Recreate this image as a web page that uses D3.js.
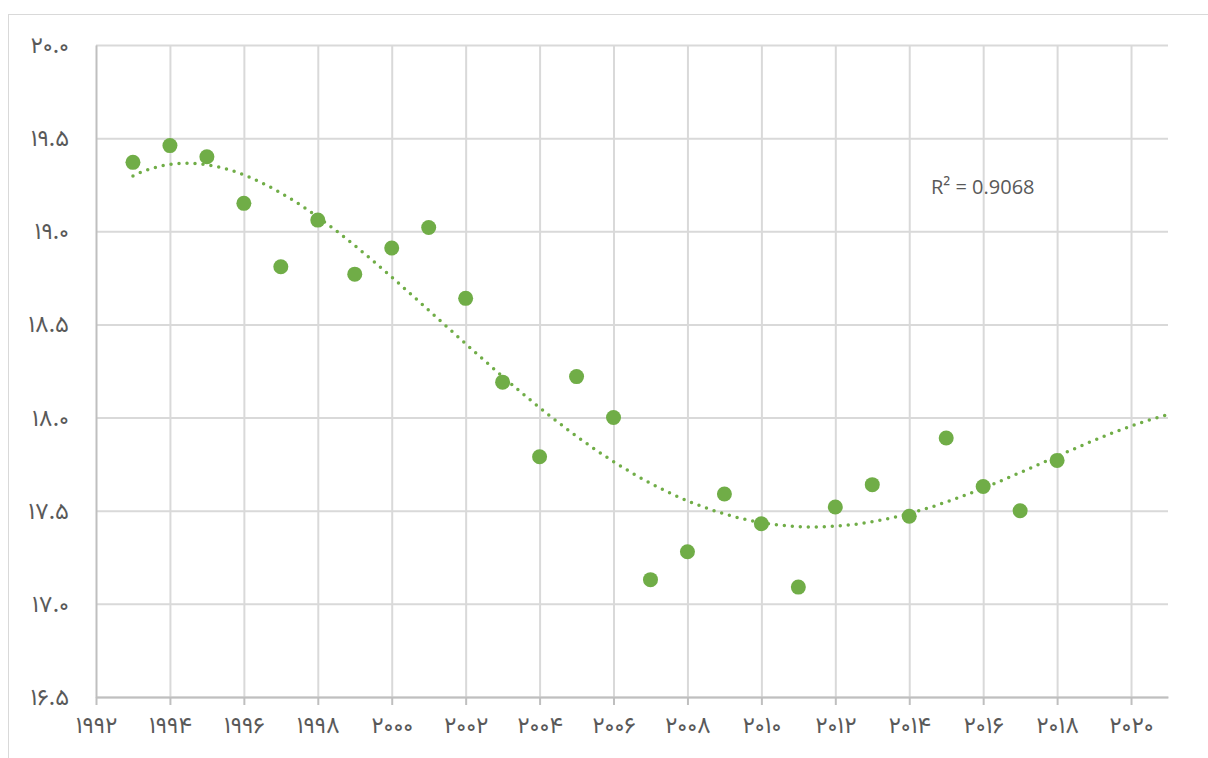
<!DOCTYPE html>
<html>
<head>
<meta charset="utf-8">
<script src="https://cdn.jsdelivr.net/npm/d3@7"></script>
<style>
  html, body { margin: 0; padding: 0; background: #ffffff; }
  svg { display: block; }
</style>
</head>
<body>
<svg id="chart" width="1208" height="758"></svg>
<script>
// ---- data ----
const years = [1993, 1994, 1995, 1996, 1997, 1998, 1999, 2000, 2001, 2002, 2003, 2004, 2005,
               2006, 2007, 2008, 2009, 2010, 2011, 2012, 2013, 2014, 2015, 2016, 2017, 2018];
const values = [19.37, 19.46, 19.40, 19.15, 18.81, 19.06, 18.77, 18.91, 19.02, 18.64, 18.19, 17.79, 18.22,
                18.00, 17.13, 17.28, 17.59, 17.43, 17.09, 17.52, 17.64, 17.47, 17.89, 17.63, 17.50, 17.77];
const xTicks = [1992, 1994, 1996, 1998, 2000, 2002, 2004, 2006, 2008, 2010, 2012, 2014, 2016, 2018, 2020];
const yTicks = [16.5, 17.0, 17.5, 18.0, 18.5, 19.0, 19.5, 20.0];
const trendDegree = 4;
const trendEnd = 2021;
const r2Label = "R² = 0.9068";

// ---- helpers ----
const toFa = s => String(s).replace(/[0-9]/g, d => String.fromCharCode(0x06F0 + (+d)));

function polyfit(xs, ys, deg) {
  const mx = d3.mean(xs), sx = (d3.max(xs) - d3.min(xs)) / 2;
  const n = deg + 1;
  const A = Array.from({length: n}, () => new Array(n + 1).fill(0));
  xs.forEach((xv, i) => {
    const t = (xv - mx) / sx;
    const p = [];
    for (let k = 0; k < n; k++) p.push(Math.pow(t, k));
    for (let r = 0; r < n; r++) {
      for (let c = 0; c < n; c++) A[r][c] += p[r] * p[c];
      A[r][n] += p[r] * ys[i];
    }
  });
  for (let c = 0; c < n; c++) {
    let piv = c;
    for (let r = c + 1; r < n; r++) if (Math.abs(A[r][c]) > Math.abs(A[piv][c])) piv = r;
    [A[c], A[piv]] = [A[piv], A[c]];
    for (let r = 0; r < n; r++) {
      if (r === c) continue;
      const f = A[r][c] / A[c][c];
      for (let k = c; k <= n; k++) A[r][k] -= f * A[c][k];
    }
  }
  const coef = A.map((row, i) => row[n] / row[i]);
  return xv => { const t = (xv - mx) / sx; let s = 0; for (let k = n - 1; k >= 0; k--) s = s * t + coef[k]; return s; };
}

// ---- layout ----
const svg = d3.select("#chart");
const pL = 96, pR = 1168, pT = 45, pB = 697;
const x = d3.scaleLinear().domain([1992, 2021]).range([pL, pR]);
const y = d3.scaleLinear().domain([16.5, 20]).range([pB, pT]);

const green = "#70AD47";
const gridColor = "#d9d9d9";
const textColor = "#595959";
const faFont = "Vazirmatn, 'DejaVu Sans', sans-serif";

// outer chart border
svg.append("rect").attr("x", 8.5).attr("y", 14.5).attr("width", 1300).attr("height", 800)
  .attr("fill", "none").attr("stroke", gridColor).attr("stroke-width", 1);

// horizontal gridlines
const yGrid = svg.append("g").attr("transform", `translate(${pL},0)`)
  .call(d3.axisLeft(y).tickValues(yTicks).tickSize(-(pR - pL)).tickFormat(""));
yGrid.select(".domain").remove();
yGrid.selectAll(".tick line").attr("stroke", gridColor).attr("stroke-width", 2);

// vertical gridlines
const xGrid = svg.append("g").attr("transform", `translate(0,${pB})`)
  .call(d3.axisBottom(x).tickValues(xTicks.slice(1)).tickSize(-(pB - pT)).tickFormat(""));
xGrid.select(".domain").remove();
xGrid.selectAll(".tick line").attr("stroke", gridColor).attr("stroke-width", 2);

// bottom axis with outward ticks and labels
const xAxis = svg.append("g").attr("transform", `translate(0,${pB})`)
  .call(d3.axisBottom(x).tickValues(xTicks).tickSize(8).tickSizeOuter(0).tickPadding(11).tickFormat(d => toFa(d)));
xAxis.select(".domain").attr("stroke", "#bfbfbf").attr("stroke-width", 2);
xAxis.selectAll(".tick line").attr("stroke", "#bfbfbf").attr("stroke-width", 2);
xAxis.selectAll(".tick text").attr("fill", textColor).style("font-family", faFont).style("font-size", "23.5px");

// left axis
const yAxis = svg.append("g").attr("transform", `translate(${pL},0)`)
  .call(d3.axisLeft(y).tickValues(yTicks).tickSize(0).tickPadding(27).tickFormat(d => toFa(d3.format(".1f")(d))));
yAxis.select(".domain").attr("stroke", "#bfbfbf").attr("stroke-width", 2);
yAxis.selectAll(".tick text").attr("fill", textColor).style("font-family", faFont).style("font-size", "23.5px");

// trendline (polynomial, order 4, forecast forward to 2021)
const fit = polyfit(years, values, trendDegree);
const tx = d3.range(years[0], trendEnd + 0.0001, 0.05);
const line = d3.line().x(d => x(d)).y(d => y(fit(d)));
svg.append("path").datum(tx).attr("d", line)
  .attr("fill", "none").attr("stroke", green).attr("stroke-width", 3.5)
  .attr("stroke-linecap", "round").attr("stroke-dasharray", "0 8");

// points
svg.append("g").selectAll("circle").data(years).join("circle")
  .attr("cx", d => x(d)).attr("cy", (d, i) => y(values[i])).attr("r", 7.5)
  .attr("fill", green);

// R² label
svg.append("text").attr("x", 931).attr("y", 194)
  .attr("fill", textColor).style("font-family", "'Open Sans', sans-serif").style("font-size", "20px")
  .text(r2Label);
</script>
</body>
</html>
